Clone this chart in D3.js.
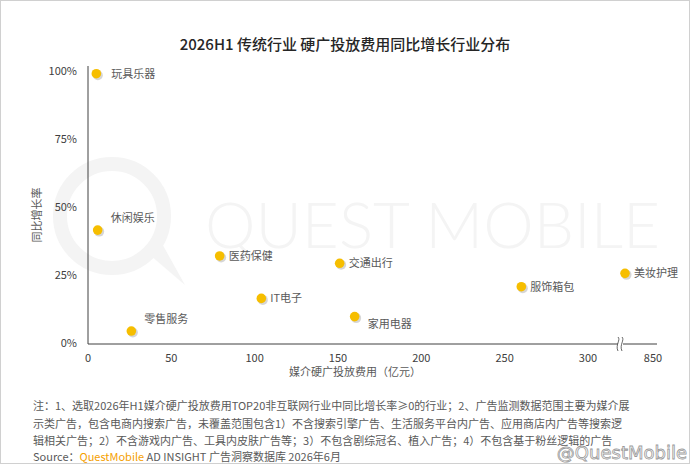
<!DOCTYPE html>
<html>
<head>
<meta charset="utf-8">
<script src="https://cdn.jsdelivr.net/npm/d3@7/dist/d3.min.js"></script>
<style>
    body { margin: 0; background: #fff; }
    svg text { font-family: "Noto Sans CJK SC", "Noto Sans", sans-serif; }
</style>
</head>
<body>
<div id="chart"></div>
<script>
// Chart data
const industries = ['玩具乐器', '休闲娱乐', '零售服务', '医药保健', 'IT电子', '交通出行', '家用电器', '服饰箱包', '美妆护理'];
const spend = [5, 5.8, 26, 79, 104, 151, 160, 260, 790];      // 亿元
const growth = [99, 41.5, 4.4, 32, 16.4, 29.3, 9.7, 20.7, 25.6]; // %
const xTicks = [0, 50, 100, 150, 200, 250, 300, 850];
const yTicks = [0, 25, 50, 75, 100];
const notes = [
    '注：1、选取2026年H1媒介硬广投放费用TOP20非互联网行业中同比增长率≥0的行业；2、广告监测数据范围主要为媒介展',
    '示类广告，包含电商内搜索广告，未覆盖范围包含1）不含搜索引擎广告、生活服务平台内广告、应用商店内广告等搜索逻',
    '辑相关广告；2）不含游戏内广告、工具内皮肤广告等；3）不包含剧综冠名、植入广告；4）不包含基于粉丝逻辑的广告'
];

// Label placement per point: r = right, a = above right, b = below right
const placement = ['r', 'a', 'a', 'r', 'r', 'r', 'b', 'r', 'r'];

const W = 690, H = 464;
const svg = d3.select('#chart').append('svg')
    .attr('width', W)
    .attr('height', H);

// Frame
svg.append('rect')
    .attr('x', 0.5).attr('y', 0.5)
    .attr('width', W - 1).attr('height', H - 1)
    .style('fill', '#fff')
    .style('stroke', '#d0d0d0');

// Background watermark
const wm = svg.append('g');
wm.append('circle')
    .attr('cx', 112).attr('cy', 216).attr('r', 52)
    .style('fill', 'none')
    .style('stroke', '#f4f4f4')
    .style('stroke-width', 14);
wm.append('path')
    .attr('d', 'M150,255 L185,285 L160,240 Z')
    .style('fill', '#f4f4f4');
wm.append('text')
    .attr('x', 205).attr('y', 248)
    .attr('textLength', 455)
    .attr('lengthAdjust', 'spacingAndGlyphs')
    .text('QUEST MOBILE')
    .style('font-family', 'Lato, "Open Sans", sans-serif')
    .style('font-size', '64px')
    .style('font-weight', 300)
    .style('fill', '#f4f4f4');

// Scales (x axis is broken between 320 and 790)
const x = d3.scaleLinear().domain([0, 320, 790, 850]).range([88, 621.3, 625, 653]);
const y = d3.scaleLinear().domain([0, 100]).range([343, 71]);

// Title
svg.append('text')
    .attr('x', 345).attr('y', 50)
    .attr('text-anchor', 'middle')
    .text('2026H1 传统行业 硬广投放费用同比增长行业分布')
    .style('font-size', '15px')
    .style('font-weight', 500)
    .style('fill', '#262626');

// Axes lines
svg.append('line')
    .attr('x1', 88).attr('y1', 66).attr('x2', 88).attr('y2', 344)
    .style('stroke', '#404040').style('stroke-width', '1px');
svg.append('line')
    .attr('x1', 88).attr('y1', 344).attr('x2', 657).attr('y2', 344)
    .style('stroke', '#404040').style('stroke-width', '1px');

// Axis break mark
svg.append('rect')
    .attr('x', 618).attr('y', 340).attr('width', 5).attr('height', 8)
    .style('fill', '#fff');
[618, 622].forEach(bx => {
    svg.append('path')
        .attr('d', `M${bx},337 C${bx + 3},340 ${bx - 3},345 ${bx},351`)
        .style('fill', 'none')
        .style('stroke', '#404040')
        .style('stroke-width', '0.8px');
});

// Tick labels
svg.selectAll('.xtick')
    .data(xTicks)
    .enter()
    .append('text')
        .attr('class', 'xtick')
        .attr('x', d => x(d))
        .attr('y', 362)
        .attr('text-anchor', 'middle')
        .text(d => d)
        .style('font-size', '11px')
        .style('fill', '#404040');

svg.selectAll('.ytick')
    .data(yTicks)
    .enter()
    .append('text')
        .attr('class', 'ytick')
        .attr('x', 77)
        .attr('y', d => y(d) + 4)
        .attr('text-anchor', 'end')
        .text(d => d + '%')
        .style('font-size', '11px')
        .style('fill', '#404040');

// Axis titles
svg.append('text')
    .attr('x', 355).attr('y', 376)
    .attr('text-anchor', 'middle')
    .text('媒介硬广投放费用（亿元）')
    .style('font-size', '11px')
    .style('fill', '#595959');

svg.append('text')
    .attr('transform', 'translate(41,215) rotate(-90)')
    .attr('text-anchor', 'middle')
    .text('同比增长率')
    .style('font-size', '11px')
    .style('fill', '#595959');

// Points with shadow
const pts = industries.map((name, i) => ({ name: name, sx: spend[i], gy: growth[i], pos: placement[i] }));

svg.selectAll('.shadow')
    .data(pts)
    .enter()
    .append('circle')
        .attr('class', 'shadow')
        .attr('cx', d => x(d.sx) + 1.5)
        .attr('cy', d => y(d.gy) + 1.5)
        .attr('r', 5)
        .style('fill', '#bbb')
        .style('opacity', 0.6);

svg.selectAll('.dot')
    .data(pts)
    .enter()
    .append('circle')
        .attr('class', 'dot')
        .attr('cx', d => x(d.sx))
        .attr('cy', d => y(d.gy))
        .attr('r', 4.8)
        .style('fill', '#F6BE00');

svg.selectAll('.label')
    .data(pts)
    .enter()
    .append('text')
        .attr('class', 'label')
        .attr('x', d => x(d.sx) + (d.pos == 'r' ? (d.name == '玩具乐器' ? 15 : 9) : 13))
        .attr('y', d => y(d.gy) + (d.pos == 'r' ? 4 : d.pos == 'a' ? -8 : 11))
        .text(d => d.name)
        .style('font-size', '11px')
        .style('fill', '#595959');

// Notes
notes.forEach((line, i) => {
    svg.append('text')
        .attr('x', 33)
        .attr('y', 410 + i * 17.5)
        .text(line)
        .style('font-size', '11px')
        .style('fill', '#595959');
});

const src = svg.append('text')
    .attr('x', 33).attr('y', 461)
    .style('font-size', '11px')
    .style('fill', '#595959');
src.append('tspan').text('Source：');
src.append('tspan').text('QuestMobile').style('fill', '#F5A000');
src.append('tspan').text(' AD INSIGHT 广告洞察数据库 2026年6月');

// Corner watermark
svg.append('text')
    .attr('x', 687).attr('y', 459)
    .attr('text-anchor', 'end')
    .text('@QuestMobile')
    .style('font-family', '"DejaVu Sans", sans-serif')
    .style('font-size', '18px')
    .style('fill', '#fff')
    .style('stroke', '#9a9a9a')
    .style('stroke-width', '0.8px');
</script>
</body>
</html>
